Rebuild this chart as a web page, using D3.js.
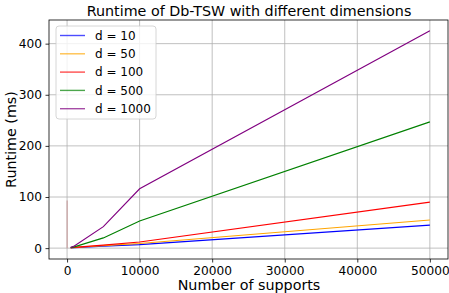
<!DOCTYPE html>
<meta charset="utf-8">
<style>
body { margin: 0; background: #fff; }
text { font-family: "DejaVu Sans", sans-serif; fill: #000; }
.grid line { stroke: #b0b0b0; stroke-width: 0.8px; }
.line { fill: none; stroke-width: 1.15px; }
</style>
<body>
<script src="https://d3js.org/d3.v7.min.js"></script>
<script>

// data
var supports = [500, 1000, 5000, 10000, 50000];
var d10   = [0.5, 1, 4, 7, 45];
var d50   = [0.6, 1.2, 5, 9, 55];
var d100  = [0.8, 1.5, 6, 12, 90];
var d500  = [1, 2.5, 20, 53, 247];
var d1000 = [1.5, 4, 42, 116, 425];
// faint spike at the very first point
var spikeX = [10, 10];
var spikeY = [0, 93];

var dims = ["d = 10", "d = 50", "d = 100", "d = 500", "d = 1000"];
var colors = ["blue", "orange", "red", "green", "purple"];
var series = [d10, d50, d100, d500, d1000];

var xTicks = [0, 10000, 20000, 30000, 40000, 50000];
var yTicks = [0, 100, 200, 300, 400];

var W = 449, H = 293;
var margin = {top: 20, right: 1, bottom: 34, left: 49},
    width = W - margin.left - margin.right,
    height = H - margin.top - margin.bottom;

var x = d3.scaleLinear().domain([-2489.5, 52499.5]).range([0, width]);
var y = d3.scaleLinear().domain([-21.25, 446.25]).range([height, 0]);

var svg = d3.select("body").append("svg")
    .attr("width", W)
    .attr("height", H);

var g = svg.append("g")
    .attr("transform", "translate(" + margin.left + "," + margin.top + ")");

// grid
var grid = g.append("g").attr("class", "grid");
grid.selectAll(".gx").data(xTicks).enter().append("line")
    .attr("x1", function(d) { return x(d); }).attr("x2", function(d) { return x(d); })
    .attr("y1", 0).attr("y2", height);
grid.selectAll(".gy").data(yTicks).enter().append("line")
    .attr("y1", function(d) { return y(d); }).attr("y2", function(d) { return y(d); })
    .attr("x1", 0).attr("x2", width);

// spike
var line = d3.line()
    .x(function(d) { return x(d[0]); })
    .y(function(d) { return y(d[1]); });

g.append("path")
    .datum(d3.zip(spikeX, spikeY))
    .attr("class", "line")
    .attr("stroke", "#c8a0a0")
    .attr("d", line);

// series lines
series.forEach(function(s, i) {
  g.append("path")
      .datum(d3.zip(supports, s))
      .attr("class", "line")
      .attr("stroke", colors[i])
      .attr("d", line);
});

// axes
var xAxis = g.append("g")
    .attr("transform", "translate(0," + height + ")")
    .call(d3.axisBottom(x).tickValues(xTicks).tickFormat(d3.format("d")).tickSize(3.5).tickPadding(4));
var yAxis = g.append("g")
    .call(d3.axisLeft(y).tickValues(yTicks).tickFormat(d3.format("d")).tickSize(3.5).tickPadding(3.5));
[xAxis, yAxis].forEach(function(a) {
  a.select(".domain").remove();
  a.selectAll("text").style("font-size", "12.2px").style("font-family", "DejaVu Sans").attr("fill", "#000");
  a.selectAll("line").attr("stroke", "#000").attr("stroke-width", 0.8);
});

// frame
g.append("rect")
    .attr("width", width).attr("height", height)
    .attr("fill", "none").attr("stroke", "#000").attr("stroke-width", 0.8);

// labels
svg.append("text")
    .attr("x", margin.left + width / 2 + 0.5).attr("y", 16)
    .attr("text-anchor", "middle")
    .style("font-size", "14.3px")
    .text("Runtime of Db-TSW with different dimensions");

svg.append("text")
    .attr("x", margin.left + width / 2 + 0.5).attr("y", 290)
    .attr("text-anchor", "middle")
    .style("font-size", "14.3px")
    .text("Number of supports");

svg.append("text")
    .attr("transform", "translate(16," + (margin.top + height / 2) + ") rotate(-90)")
    .attr("text-anchor", "middle")
    .style("font-size", "14.3px")
    .text("Runtime (ms)");

// legend
var leg = svg.append("g").attr("transform", "translate(56,26)");
leg.append("rect")
    .attr("width", 100).attr("height", 93)
    .attr("rx", 3).attr("ry", 3)
    .attr("fill", "#fff").attr("fill-opacity", 0.8)
    .attr("stroke", "#cccccc").attr("stroke-width", 0.8);

var item = leg.selectAll(".item").data(dims).enter().append("g")
    .attr("transform", function(d, i) { return "translate(0," + (9.5 + i * 18.3) + ")"; });
item.append("line")
    .attr("x1", 4).attr("x2", 29)
    .attr("stroke", function(d, i) { return colors[i]; })
    .attr("stroke-width", 1.4)
    .attr("stroke-opacity", 0.7);
item.append("text")
    .attr("x", 39).attr("dy", "0.35em")
    .style("font-size", "12px")
    .text(function(d) { return d; });

</script>
</body>
